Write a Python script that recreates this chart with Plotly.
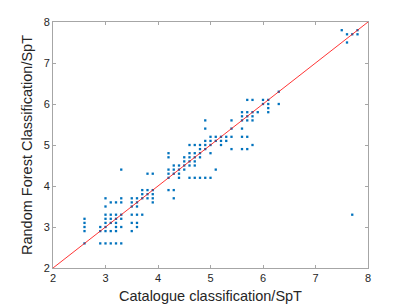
import plotly.graph_objects as go

# catalogue SpT (x) and random forest SpT (y)
cat_spt = (
    [2.6]*5 + [2.9]*3 + [3.0]*8 + [3.1]*6 + [3.2]*7 + [3.3]*7 + [3.5]*6 + [3.6]*6 +
    [3.7]*4 + [3.8]*4 + [3.9]*5 +
    [4.2]*6 + [4.3]*5 + [4.4]*4 + [4.5]*4 + [4.6]*6 + [4.7]*6 + [4.8]*5 + [4.9]*6 +
    [5.0]*5 + [5.1]*3 + [5.2]*3 + [5.3]*2 + [5.4]*4 + [5.6]*6 + [5.7]*6 + [5.8]*5 +
    [5.9]*1 + [6.0]*2 + [6.1]*4 + [6.3]*2 +
    [7.5]*1 + [7.6]*2 + [7.7]*2 + [7.8]*2
)
rf_spt = (
    [3.2, 3.1, 3.0, 2.9, 2.6] +
    [3.0, 2.9, 2.6] +
    [3.7, 3.5, 3.3, 3.2, 3.1, 3.0, 2.9, 2.6] +
    [3.6, 3.3, 3.2, 3.1, 2.9, 2.6] +
    [3.6, 3.3, 3.2, 3.1, 3.0, 2.9, 2.6] +
    [4.4, 3.7, 3.6, 3.3, 3.2, 3.0, 2.6] +
    [3.7, 3.6, 3.5, 3.3, 3.1, 2.9] +
    [3.7, 3.6, 3.5, 3.3, 3.1, 3.0] +
    [3.9, 3.8, 3.7, 3.3] +
    [4.3, 3.9, 3.8, 3.7] +
    [4.3, 3.9, 3.8, 3.7, 3.6] +
    [4.8, 4.7, 4.4, 4.3, 4.2, 3.9] +
    [4.5, 4.4, 4.3, 3.9, 3.7] +
    [4.5, 4.4, 4.3, 4.2] +
    [4.7, 4.6, 4.5, 4.4] +
    [5.0, 4.8, 4.7, 4.6, 4.5, 4.2] +
    [5.0, 4.8, 4.7, 4.6, 4.5, 4.2] +
    [5.0, 4.9, 4.8, 4.7, 4.2] +
    [5.6, 5.4, 5.1, 5.0, 4.9, 4.2] +
    [5.2, 5.1, 5.0, 4.8, 4.2] +
    [5.2, 5.1, 4.4] +
    [5.2, 5.1, 5.0] +
    [5.2, 5.1] +
    [5.6, 5.4, 5.2, 4.9] +
    [5.8, 5.7, 5.6, 5.4, 5.2, 4.9] +
    [6.1, 5.8, 5.7, 5.6, 5.2, 4.9] +
    [6.1, 5.8, 5.7, 5.6, 5.0] +
    [5.8] +
    [6.1, 6.0] +
    [6.1, 6.0, 5.9, 5.8] +
    [6.3, 6.0] +
    [7.8] +
    [7.7, 7.5] +
    [7.7, 3.3] +
    [7.8, 7.7]
)
line_x = [2, 8]
line_y = [2, 8]
tick_vals = [2, 3, 4, 5, 6, 7, 8]

fig = go.Figure()
fig.add_trace(go.Scatter(
    x=cat_spt, y=rf_spt, mode="markers",
    marker=dict(color="#0072BD", size=2.3, symbol="square", line=dict(width=0)),
    showlegend=False,
))
fig.add_trace(go.Scatter(
    x=line_x, y=line_y, mode="lines",
    line=dict(color="#ff0000", width=0.8),
    showlegend=False,
))

axis_common = dict(
    range=[2, 8], tickvals=tick_vals, ticktext=[str(v) for v in tick_vals],
    showgrid=False, zeroline=False, automargin=False,
    showline=True, linecolor="#a6a6a6", linewidth=1, mirror="ticks",
    ticks="inside", ticklen=3, tickcolor="#a6a6a6", tickwidth=1,
    tickfont=dict(family="Liberation Sans, Arial, sans-serif", size=11, color="#262626"),
)
fig.update_xaxes(**axis_common,
                 title=dict(text="Catalogue classification/SpT", standoff=7,
                            font=dict(family="Liberation Sans, Arial, sans-serif", size=14.5, color="#262626")))
fig.update_yaxes(**axis_common,
                 title=dict(text="Random Forest Classification/SpT", standoff=7,
                            font=dict(family="Liberation Sans, Arial, sans-serif", size=14.5, color="#262626")))
# page has an 8px body margin, so the figure is 8px smaller and margins shifted
fig.update_layout(
    width=399, height=297,
    margin=dict(l=45, r=39, t=14, b=37),
    plot_bgcolor="white", paper_bgcolor="white",
)
fig.write_html("out.html")
